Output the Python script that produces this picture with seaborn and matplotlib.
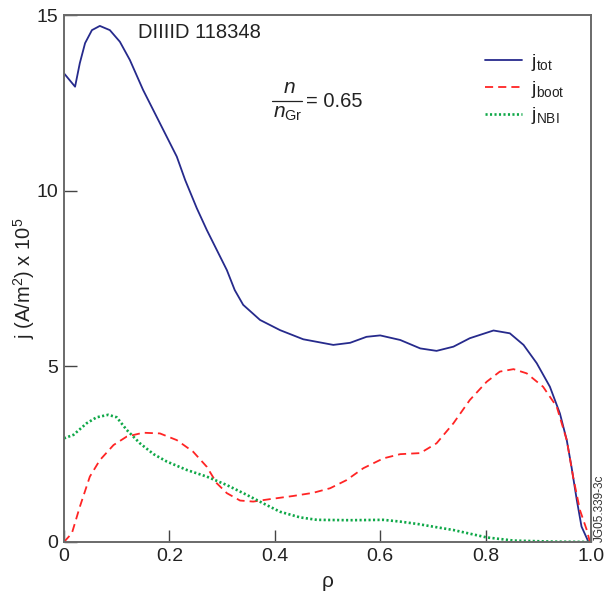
import matplotlib
matplotlib.use("Agg")
import matplotlib.pyplot as plt
import seaborn as sns
from matplotlib.lines import Line2D

sns.set_theme(style="white")
plt.rcParams['font.family'] = ['Liberation Sans', 'DejaVu Sans']
plt.rcParams['mathtext.fontset'] = 'custom'
plt.rcParams['mathtext.rm'] = 'Liberation Sans'
plt.rcParams['mathtext.it'] = 'Liberation Sans:italic'
plt.rcParams['mathtext.bf'] = 'Liberation Sans:bold'

rho_tot = [0.0, 0.021, 0.030, 0.040, 0.053, 0.068, 0.087, 0.106, 0.125, 0.150, 0.182, 0.214, 0.230,
           0.252, 0.271, 0.309, 0.324, 0.340, 0.372, 0.410, 0.454, 0.511, 0.543, 0.574, 0.600,
           0.638, 0.676, 0.707, 0.739, 0.770, 0.815, 0.846, 0.872, 0.897, 0.922, 0.941, 0.954,
           0.963, 0.973, 0.982, 0.995, 1.0]
j_tot = [13.34, 12.96, 13.63, 14.2, 14.57, 14.69, 14.57, 14.24, 13.72, 12.87, 11.92, 10.97, 10.30,
         9.5, 8.88, 7.74, 7.17, 6.75, 6.32, 6.03, 5.77, 5.61, 5.67, 5.84, 5.88,
         5.75, 5.51, 5.44, 5.56, 5.80, 6.02, 5.94, 5.61, 5.09, 4.42, 3.66, 2.90,
         2.14, 1.20, 0.44, 0.01, 0.0]

rho_boot = [0.0, 0.015, 0.030, 0.049, 0.068, 0.094, 0.119, 0.150, 0.182, 0.214, 0.245, 0.271,
            0.290, 0.309, 0.334, 0.359, 0.391, 0.435, 0.473, 0.505, 0.536, 0.568, 0.606, 0.638,
            0.676, 0.707, 0.739, 0.770, 0.802, 0.827, 0.853, 0.878, 0.909, 0.935, 0.954, 0.966,
            0.979, 0.992, 0.998]
j_boot = [0.0, 0.25, 1.0, 1.86, 2.33, 2.76, 3.0, 3.11, 3.09, 2.90, 2.57, 2.14,
          1.67, 1.39, 1.18, 1.15, 1.22, 1.31, 1.40, 1.53, 1.76, 2.10, 2.38, 2.50,
          2.53, 2.81, 3.38, 4.04, 4.56, 4.85, 4.92, 4.80, 4.42, 3.85, 2.90, 1.86,
          0.91, 0.34, 0.0]

rho_nbi = [0.0, 0.018, 0.043, 0.062, 0.084, 0.100, 0.119, 0.144, 0.170, 0.195, 0.233, 0.271,
           0.309, 0.347, 0.378, 0.410, 0.448, 0.480, 0.543, 0.606, 0.638, 0.672, 0.707, 0.739,
           0.802, 0.853, 0.929, 1.0]
j_nbi = [2.95, 3.05, 3.38, 3.55, 3.62, 3.55, 3.19, 2.81, 2.50, 2.29, 2.05, 1.86,
         1.62, 1.34, 1.10, 0.86, 0.70, 0.63, 0.62, 0.63, 0.58, 0.51, 0.42, 0.34,
         0.13, 0.04, 0.01, 0.0]

x_ticks = [0, 0.2, 0.4, 0.6, 0.8, 1.0]
x_ticklabels = ["0", "0.2", "0.4", "0.6", "0.8", "1.0"]
y_ticks = [0, 5, 10, 15]
y_ticklabels = ["0", "5", "10", "15"]

c_tot = '#262a8c'
c_boot = '#ff2424'
c_nbi = '#0fa848'
txt = '#222222'
ls_boot = (0, (4.5, 2.8))
ls_nbi = (0, (0.8, 0.9))

fig = plt.figure(figsize=(6.16, 6.01), dpi=100)
ax = fig.add_axes([0.1039, 0.0982, 0.8555, 0.8768])

sns.lineplot(x=rho_tot, y=j_tot, ax=ax, color=c_tot, lw=1.3, sort=False, estimator=None)
sns.lineplot(x=rho_boot, y=j_boot, ax=ax, color=c_boot, lw=1.3, sort=False, estimator=None,
             linestyle=ls_boot)
sns.lineplot(x=rho_nbi, y=j_nbi, ax=ax, color=c_nbi, lw=1.9, sort=False, estimator=None,
             linestyle=ls_nbi)

ax.set_xlim(0, 1.0)
ax.set_ylim(0, 15)
ax.set_xticks(x_ticks)
ax.set_xticklabels(x_ticklabels)
ax.set_yticks(y_ticks)
ax.set_yticklabels(y_ticklabels)
ax.tick_params(axis='both', which='major', direction='in', length=9, width=1.0, color='#444444',
               labelsize=14, labelcolor=txt, pad=4, bottom=True, left=True, top=False, right=False)
for s in ax.spines.values():
    s.set_color('#6a6a6a')
    s.set_linewidth(1.4)

ax.set_ylabel(r'j (A/m$^2$) x 10$^5$', fontsize=14.5, color=txt)
ax.yaxis.set_label_coords(-0.052, 0.5)
fig.text(328 / 616, 1 - 587 / 601, 'ρ', fontsize=15, color=txt, ha='center', va='baseline')

fig.text(138 / 616, 1 - 38 / 601, 'DIIIID 118348', fontsize=14.5, color=txt,
         ha='left', va='baseline')

# n / n_Gr = 0.65
fig.text(289 / 616, 1 - 93 / 601, 'n', fontsize=15, fontstyle='italic', color=txt,
         ha='center', va='baseline')
fig.add_artist(Line2D([272 / 616, 302 / 616], [1 - 101 / 601, 1 - 101 / 601],
                      transform=fig.transFigure, color=txt, lw=0.9))
fig.text(288 / 616, 1 - 118 / 601, r'$n_{\mathrm{Gr}}$', fontsize=15, color=txt,
         ha='center', va='baseline')
fig.text(306 / 616, 1 - 107 / 601, '= 0.65', fontsize=14.5, color=txt,
         ha='left', va='baseline')

handles = [Line2D([], [], color=c_tot, lw=1.3),
           Line2D([], [], color=c_boot, lw=1.3, linestyle=ls_boot),
           Line2D([], [], color=c_nbi, lw=1.9, linestyle=ls_nbi)]
labels = [r'j$_{\mathrm{tot}}$', r'j$_{\mathrm{boot}}$', r'j$_{\mathrm{NBI}}$']
leg = ax.legend(handles, labels, loc='upper left', bbox_to_anchor=(0.785, 0.945), frameon=False,
                fontsize=14, handlelength=1.9, handletextpad=0.45, labelspacing=0.3,
                borderaxespad=0)
for t in leg.get_texts():
    t.set_color(txt)

fig.text(0.9745, 0.098, 'JG05.339-3c', rotation=90, fontsize=8.5, color='#333333',
         ha='center', va='bottom')

fig.savefig('out.png', dpi=100)
